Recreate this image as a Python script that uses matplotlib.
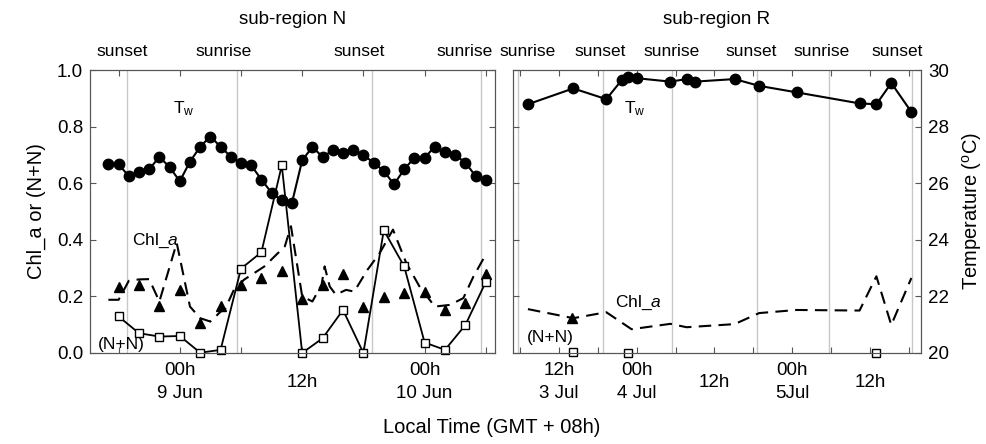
import matplotlib.pyplot as plt
import numpy as np

plt.rcParams['font.family'] = ['Liberation Sans', 'DejaVu Sans']
plt.rcParams['mathtext.fontset'] = 'custom'
plt.rcParams['mathtext.rm'] = 'Liberation Sans'
plt.rcParams['mathtext.it'] = 'Liberation Sans:italic'

# ---- sub-region N (hours from 00h 9 Jun) ----
n_tw_t = list(range(-7, 31))
n_tw = [26.67, 26.67, 26.25, 26.39, 26.49, 26.93, 26.57, 26.07, 26.76, 27.29,
        27.65, 27.29, 26.94, 26.73, 26.63, 26.13, 25.66, 25.39, 25.31, 26.81,
        27.28, 26.93, 27.16, 27.05, 27.16, 26.99, 26.73, 26.43, 25.96, 26.49,
        26.90, 26.90, 27.29, 27.10, 26.99, 26.73, 26.25, 26.11]
n_nn_t = list(range(-6, 31, 2))
n_nn = [0.129, 0.070, 0.058, 0.060, 0.001, 0.011, 0.298, 0.356, 0.663, 0.0,
        0.052, 0.152, 0.0, 0.434, 0.306, 0.037, 0.011, 0.099, 0.251]
n_chl_t = list(range(-6, 31, 2))
n_chl = [0.233, 0.241, 0.167, 0.221, 0.107, 0.167, 0.241, 0.265, 0.288, 0.190,
         0.241, 0.280, 0.162, 0.197, 0.212, 0.217, 0.152, 0.176, 0.280]
n_fl_t = [-7, -6, -5, -4, -3, -2, -0.3, 1, 2, 3, 4, 4.4, 5.3, 6.3, 8.3, 10.3, 10.9,
          12, 13, 13.9, 14.2, 14.7, 15.3, 16.3, 17.1, 18.4, 19.6, 20.9, 22.2,
          23.5, 25, 26.5, 27.8, 28.8, 30]
n_fl = [0.188, 0.188, 0.255, 0.26, 0.261, 0.182, 0.389, 0.164, 0.123, 0.111,
        0.146, 0.152, 0.223, 0.259, 0.306, 0.377, 0.448, 0.2, 0.182, 0.241,
        0.306, 0.235, 0.206, 0.223, 0.217, 0.294, 0.353, 0.436, 0.318, 0.235,
        0.164, 0.170, 0.194, 0.271, 0.348]
n_sun_t = [-5.2, 5.6, 18.8, 29.5]
n_sun_lab = ['sunset', 'sunrise', 'sunset', 'sunrise']
n_sun_lab_t = [-5.6, 4.3, 17.6, 27.9]
n_xlab_t = [0, 12, 24]
n_xlab = ['00h\n9 Jun', '12h', '00h\n10 Jun']

# ---- sub-region R (hours from 00h 4 Jul) ----
r_tw_t = [-16.8, -9.8, -4.7, -2.3, -1.3, 0, 5.2, 7.7, 9, 15.1, 18.9, 24.7, 34.4, 37, 39.3, 42.4]
r_tw = [28.79, 29.35, 28.97, 29.65, 29.74, 29.71, 29.59, 29.68, 29.59, 29.68,
        29.44, 29.21, 28.82, 28.79, 29.54, 28.52]
r_fl_t = [-16.8, -9.8, -4.7, -0.8, 5.2, 7.7, 15.1, 18.9, 24.7, 34.4, 37, 39.3, 42.4]
r_fl = [0.155, 0.123, 0.144, 0.084, 0.103, 0.091, 0.102, 0.141, 0.152, 0.150, 0.271, 0.099, 0.265]
r_chl_t = [-10]
r_chl = [0.123]
r_nn_t = [-9.8, -1.3, 37]
r_nn = [0.005, 0.001, 0.0]
r_sun_t = [-18.3, -5.2, 5.5, 18.6, 29.7, 42.5]
r_sun_lab = ['sunrise', 'sunset', 'sunrise', 'sunset', 'sunrise', 'sunset']
r_sun_lab_t = [-16.9, -5.7, 5.4, 17.7, 28.5, 40.2]
r_xlab_t = [-12, 0, 12, 24, 36]
r_xlab = ['12h\n3 Jul', '00h\n4 Jul', '12h', '00h\n5Jul', '12h']

fig = plt.figure(figsize=(9.87, 4.44), dpi=100)
axN = fig.add_axes([0.0912, 0.205, 0.4103, 0.6373])
axR = fig.add_axes([0.5198, 0.205, 0.4134, 0.6373])
spc = '#555555'
fs = 13.5


def setup(ax, xlim, sun_t, sun_lab, sun_lab_t, xlab_t, xlab, title, tw_t, tw, fl_t, fl,
          chl_t, chl, nn_t, nn, nn_line, left_labels):
    ax.set_xlim(*xlim)
    ax.set_ylim(0, 1)
    for t in sun_t:
        ax.axvline(t, color='#c8c8c8', lw=1, zorder=0)
    ax.plot(fl_t, fl, color='black', lw=1.5, ls=(0, (6, 3.5)))
    ax.plot(chl_t, chl, ls='none', marker='^', color='black', ms=6.5)
    ax.plot(nn_t, nn, color='black', lw=1.3 if nn_line else 0, marker='s',
            mfc='white', mec='black', ms=6, clip_on=False, zorder=4)
    start = int(np.ceil(xlim[0] / 6.0)) * 6
    ax.set_xticks(np.arange(start, xlim[1], 6))
    ax.set_xticklabels([])
    ax.set_yticks(np.arange(0, 1.01, 0.2))
    if left_labels:
        ax.set_yticklabels(['%.1f' % v for v in np.arange(0, 1.01, 0.2)], fontsize=fs)
    else:
        ax.set_yticklabels([])
    ax.tick_params(direction='in', top=True, length=4, color=spc, pad=5)
    for s in ax.spines.values():
        s.set_color(spc)
    tr = ax.get_xaxis_transform()
    for t, lab in zip(sun_lab_t, sun_lab):
        ax.text(t, 1.064, lab, transform=tr, ha='center', va='center', fontsize=12.5)
    for t, lab in zip(xlab_t, xlab):
        if '\n' in lab:
            top, bot = lab.split('\n')
            ax.text(t, -0.062, top, transform=tr, ha='center', va='center', fontsize=fs)
            ax.text(t, -0.143, bot, transform=tr, ha='center', va='center', fontsize=fs)
        else:
            ax.text(t, -0.103, lab, transform=tr, ha='center', va='center', fontsize=fs)
    ax.text(0.5, 1.177, title, transform=ax.transAxes, ha='center', va='center', fontsize=fs)
    tx = ax.twinx()
    tx.set_ylim(20, 30)
    tx.set_yticks(range(20, 31, 2))
    tx.plot(tw_t, tw, color='black', lw=1.5, marker='o', ms=7.5)
    tx.tick_params(direction='in', length=4, color=spc, labelsize=fs, pad=5)
    if left_labels:
        tx.set_yticklabels([])
    for s in tx.spines.values():
        s.set_color(spc)
    return tx


setup(axN, (-8.8, 30.9), n_sun_t, n_sun_lab, n_sun_lab_t, n_xlab_t, n_xlab, 'sub-region N',
      n_tw_t, n_tw, n_fl_t, n_fl, n_chl_t, n_chl, n_nn_t, n_nn, True, True)
txR = setup(axR, (-19.1, 43.9), r_sun_t, r_sun_lab, r_sun_lab_t, r_xlab_t, r_xlab, 'sub-region R',
            r_tw_t, r_tw, r_fl_t, r_fl, r_chl_t, r_chl, r_nn_t, r_nn, False, False)

# in-plot labels
lfs = 12.5
axN.text(0.4, 0.862, r'T$_\mathrm{w}$', ha='center', va='center', fontsize=lfs)
axN.text(-2.4, 0.397, r'Chl_$\mathit{a}$', ha='center', va='center', fontsize=lfs)
axN.text(-5.7, 0.03, '(N+N)', ha='center', va='center', fontsize=lfs)
axR.text(-0.3, 0.862, r'T$_\mathrm{w}$', ha='center', va='center', fontsize=lfs)
axR.text(0.3, 0.177, r'Chl_$\mathit{a}$', ha='center', va='center', fontsize=lfs)
axR.text(-13.4, 0.054, '(N+N)', ha='center', va='center', fontsize=lfs)

axN.set_ylabel('Chl_a or (N+N)', fontsize=14.5, labelpad=8)
txR.set_ylabel('Temperature ($^\\mathrm{o}$C)', fontsize=14.5, labelpad=8)
fig.text(0.498, 0.038, 'Local Time (GMT + 08h)', ha='center', va='center', fontsize=14.5)

fig.savefig('out.png', dpi=100)
